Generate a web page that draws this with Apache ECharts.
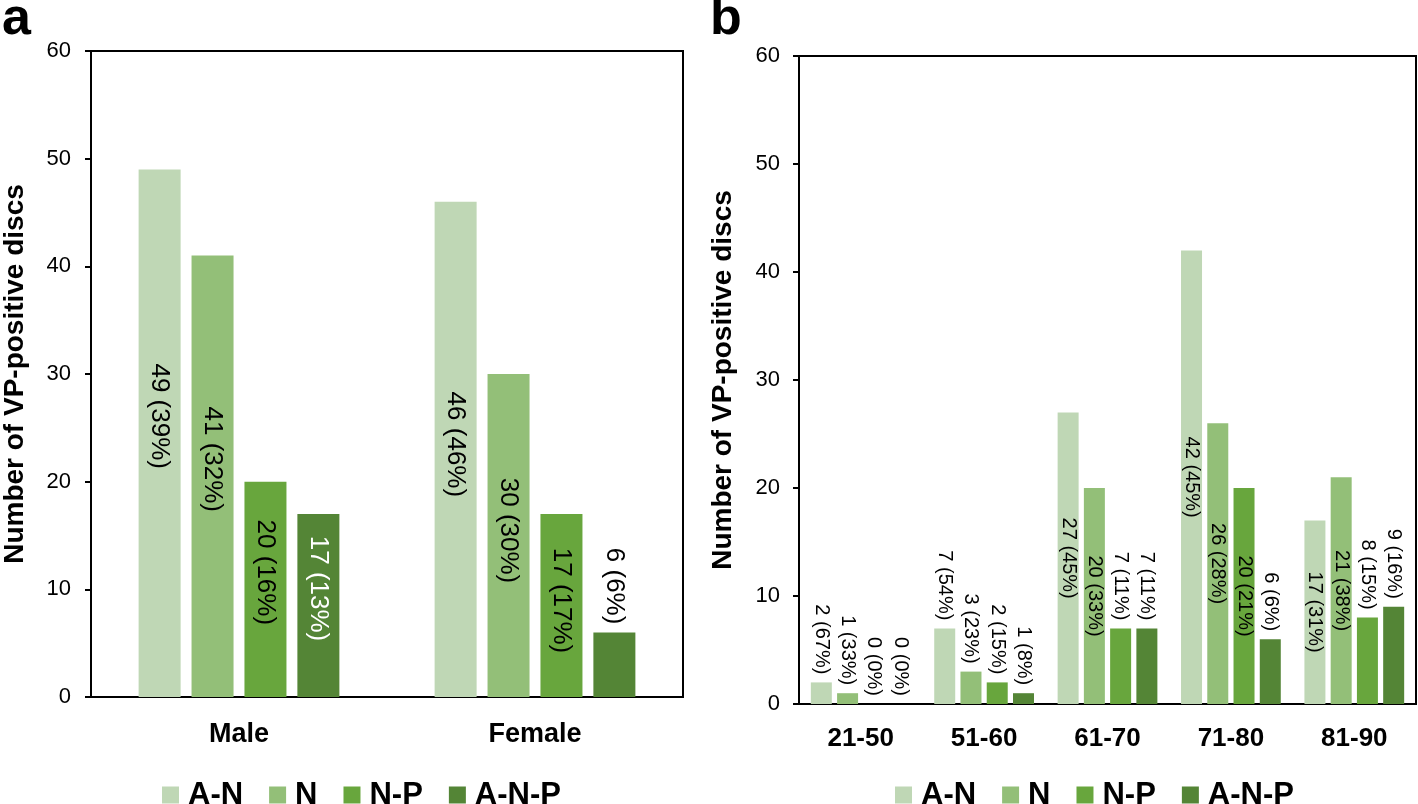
<!DOCTYPE html>
<html>
<head>
<meta charset="utf-8">
<script src="https://cdn.jsdelivr.net/npm/echarts@6/dist/echarts.min.js"></script>
<style>
html,body{margin:0;padding:0;background:#fff;}
#chart{width:1418px;height:804px;}
</style>
</head>
<body>
<div id="chart"></div>
<script>
// ---- data ----
const seriesNames = ['A-N', 'N', 'N-P', 'A-N-P'];
const leftCategories = ['Male', 'Female'];
const rightCategories = ['21-50', '51-60', '61-70', '71-80', '81-90'];
const yTickMin = 0, yTickMax = 60, yTickStep = 10;

const leftAN  = [49, 46];
const leftN   = [41, 30];
const leftNP  = [20, 17];
const leftANP = [17, 6];
const leftANPct  = [39, 46];
const leftNPct   = [32, 30];
const leftNPPct  = [16, 17];
const leftANPPct = [13, 6];

const rightAN  = [2, 7, 27, 42, 17];
const rightN   = [1, 3, 20, 26, 21];
const rightNP  = [0, 2, 7, 20, 8];
const rightANP = [0, 1, 7, 6, 9];
const rightANPct  = [67, 54, 45, 45, 31];
const rightNPct   = [33, 23, 33, 28, 38];
const rightNPPct  = [0, 15, 11, 21, 15];
const rightANPPct = [0, 8, 11, 6, 16];

// ---- style ----
const FONT = '"Liberation Sans", Arial, Helvetica, sans-serif';
const colors = ['#bfd7b5', '#93bf78', '#68a63d', '#548536'];

const leftVals = [leftAN, leftN, leftNP, leftANP];
const leftPcts = [leftANPct, leftNPct, leftNPPct, leftANPPct];
const rightVals = [rightAN, rightN, rightNP, rightANP];
const rightPcts = [rightANPct, rightNPct, rightNPPct, rightANPPct];

function buildSeries(vals, pcts, axisIdx, cfg) {
  return vals.map((arr, s) => ({
    type: 'bar',
    name: seriesNames[s],
    xAxisIndex: axisIdx,
    yAxisIndex: axisIdx,
    barWidth: cfg.barWidth,
    barGap: cfg.barGap,
    itemStyle: { color: colors[s] },
    data: arr.map((v, i) => {
      const txt = v + ' (' + pcts[s][i] + '%)';
      const inside = v >= cfg.insideMin;
      // offset is in the label's rotated frame: local -x means screen up
      const label = inside ? {
        show: true, position: 'inside', rotate: -90, align: 'center', verticalAlign: 'middle',
        offset: [cfg.insideShift[i] || 0, 0],
        color: s === vals.length - 1 ? '#fff' : '#000',
        fontSize: cfg.labelSize, fontFamily: FONT,
        formatter: txt
      } : {
        show: true, position: 'top', distance: 8, rotate: -90, align: 'right', verticalAlign: 'middle',
        color: '#000', fontSize: cfg.labelSize, fontFamily: FONT,
        formatter: txt
      };
      return { value: v, label };
    })
  }));
}

const leftSeries = buildSeries(leftVals, leftPcts, 0, {
  barWidth: 42, barGap: '26%', insideMin: 10, labelSize: 26, insideShift: [-17, -5]
});
const rightSeries = buildSeries(rightVals, rightPcts, 1, {
  barWidth: 21, barGap: '25%', insideMin: 10, labelSize: 20, insideShift: []
});

function yAxis(gridIndex, nameGap, labelMargin) {
  return {
    type: 'value', gridIndex, min: yTickMin, max: yTickMax, interval: yTickStep,
    name: 'Number of VP-positive discs', nameLocation: 'middle', nameGap,
    nameTextStyle: { fontSize: 28, fontWeight: 'bold', color: '#000', fontFamily: FONT },
    axisLine: { show: true, lineStyle: { color: '#000', width: 2 } },
    axisTick: { show: true, length: 6, lineStyle: { color: '#000', width: 2 } },
    axisLabel: { color: '#000', fontSize: 22, margin: labelMargin, fontFamily: FONT },
    splitLine: { show: false }
  };
}
function xAxis(gridIndex, data, fontSize, margin) {
  return {
    type: 'category', gridIndex, data,
    axisLine: { show: true, lineStyle: { color: '#000', width: 2 } },
    axisTick: { show: false },
    axisLabel: { color: '#000', fontSize, fontWeight: 'bold', margin, fontFamily: FONT, interval: 0 },
    splitLine: { show: false }
  };
}
function legend(left) {
  return {
    data: seriesNames, left, top: 774, icon: 'rect', itemWidth: 17, itemHeight: 17, itemGap: 26,
    selectedMode: false,
    textStyle: { fontSize: 31, fontWeight: 'bold', color: '#000', fontFamily: FONT, padding: [0, 0, 0, 4], lineHeight: 32 }
  };
}

const chart = echarts.init(document.getElementById('chart'), null, { renderer: 'canvas' });
chart.setOption({
  backgroundColor: '#fff',
  animation: false,
  grid: [
    { left: 89, top: 51, width: 594, height: 646, show: true, borderColor: '#000', borderWidth: 2, backgroundColor: 'transparent', containLabel: false },
    { left: 799, top: 56, width: 617, height: 648, show: true, borderColor: '#000', borderWidth: 2, backgroundColor: 'transparent', containLabel: false }
  ],
  xAxis: [xAxis(0, leftCategories, 27, 24), xAxis(1, rightCategories, 26, 22)],
  yAxis: [yAxis(0, 62, 20), yAxis(1, 62, 19)],
  legend: [legend(157), legend(890)],
  graphic: [
    { type: 'text', left: 2, top: -6, style: { text: 'a', fontSize: 52, fontWeight: 'bold', fill: '#000', fontFamily: FONT } },
    { type: 'text', left: 710, top: -6, style: { text: 'b', fontSize: 52, fontWeight: 'bold', fill: '#000', fontFamily: FONT } }
  ],
  series: leftSeries.concat(rightSeries)
});
</script>
</body>
</html>
